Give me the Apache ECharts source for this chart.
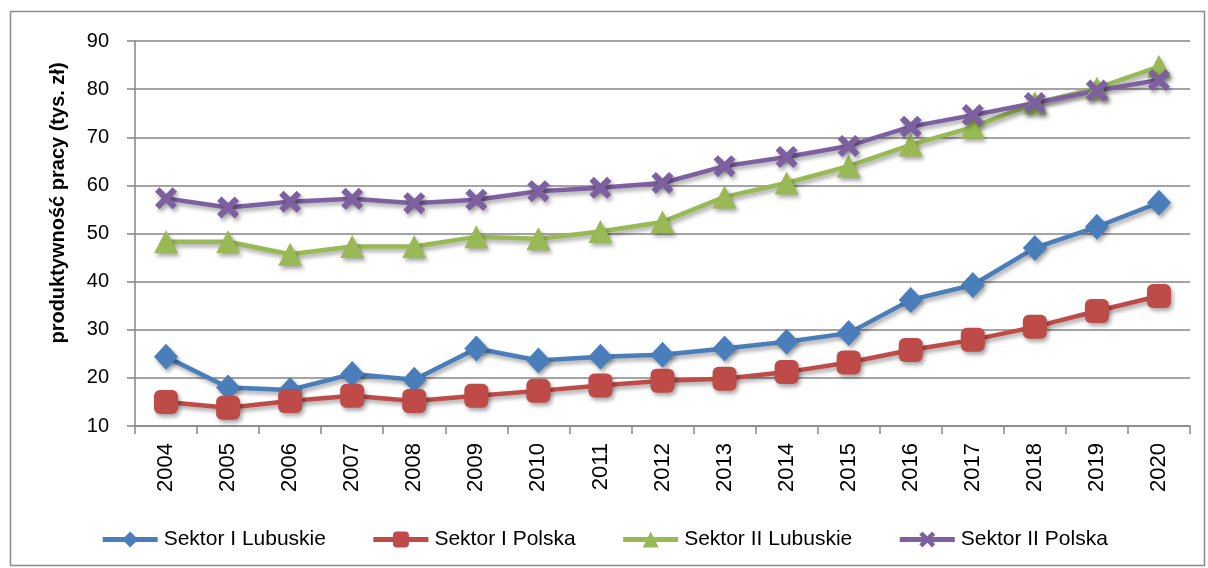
<!DOCTYPE html>
<html>
<head>
<meta charset="utf-8">
<script src="https://cdn.jsdelivr.net/npm/echarts@6/dist/echarts.min.js"></script>
<style>html,body{margin:0;padding:0;background:#fff;}#c{width:1208px;height:568px;}</style>
</head>
<body>
<div id="c"></div>
<script>
var years = ['2004','2005','2006','2007','2008','2009','2010','2011','2012','2013','2014','2015','2016','2017','2018','2019','2020'];
var sektorILubuskie = [24.4,18.0,17.5,20.8,19.6,26.1,23.6,24.4,24.8,26.1,27.5,29.3,36.2,39.3,47.0,51.4,56.4];
var sektorIPolska = [15.0,13.8,15.2,16.3,15.2,16.3,17.3,18.4,19.4,19.8,21.2,23.2,25.8,27.9,30.6,33.9,37.0];
var sektorIILubuskie = [48.3,48.3,45.7,47.3,47.3,49.3,48.9,50.4,52.4,57.6,60.5,64.0,68.4,72.1,77.1,80.2,84.7];
var sektorIIPolska = [57.3,55.4,56.6,57.2,56.3,57.0,58.8,59.5,60.5,64.0,65.9,68.2,72.2,74.6,77.1,79.7,81.9];
var seriesNames = ['Sektor I Lubuskie','Sektor I Polska','Sektor II Lubuskie','Sektor II Polska'];
var yTitle = 'produktywność pracy (tys. zł)';

var chart = echarts.init(document.getElementById('c'), null, {renderer:'canvas'});
var shadow = {shadowColor:'rgba(0,0,0,0.35)', shadowBlur:4, shadowOffsetX:2, shadowOffsetY:3};
function mk(name, data, color, symbol, size){
  return {
    name: name, type:'line', data: data, symbol: symbol, symbolSize: size,
    showAllSymbol:true,
    lineStyle: Object.assign({color: color, width: 4.5}, shadow),
    itemStyle: Object.assign({color: color}, shadow),
    emphasis:{disabled:true}, z: 2
  };
}
var xPath = 'path://M2,0 L5,3 L8,0 L10,2 L7,5 L10,8 L8,10 L5,7 L2,10 L0,8 L3,5 L0,2 Z';
chart.setOption({
  animation:false,
  backgroundColor:'#fff',
  grid:{left:135, right:18, top:41, bottom:142},
  graphic:[
    {type:'rect', shape:{x:10.5,y:11.5,width:1194,height:554}, style:{fill:'none', stroke:'#8c8c8c', lineWidth:1.5}, z:-1},
    {type:'text', x:58, y:203, rotation:Math.PI/2, style:{text:yTitle, fontFamily:'Liberation Sans, Arial, sans-serif', fontWeight:'bold', fontSize:20, fill:'#000', align:'center', verticalAlign:'middle'}}
  ],
  legend:{
    bottom:13, left:'center', itemGap:45, itemWidth:55, itemHeight:20,
    lineStyle:{width:5},
    textStyle:{fontFamily:'Liberation Sans, Arial, sans-serif', fontSize:21, color:'#000', padding:[0,0,0,1]},
    data: seriesNames
  },
  xAxis:{
    type:'category', data: years, boundaryGap:true,
    axisLine:{lineStyle:{color:'#868686', width:1.5}},
    axisTick:{show:true, length:8, lineStyle:{color:'#868686', width:1.5}},
    axisLabel:{rotate:90, fontSize:22, color:'#000', margin:17, fontFamily:'Liberation Sans, Arial, sans-serif'}
  },
  yAxis:{
    type:'value', min:10, max:90, interval:10,
    axisLine:{show:true, lineStyle:{color:'#868686', width:1.5}},
    axisTick:{show:true, length:8, lineStyle:{color:'#868686', width:1.5}},
    splitLine:{lineStyle:{color:'#868686', width:1.5}},
    axisLabel:{fontSize:20, color:'#000', margin:26, fontFamily:'Liberation Sans, Arial, sans-serif'}
  },
  series:[
    mk(seriesNames[0], sektorILubuskie, '#4a7ebb', 'diamond', [24,26]),
    mk(seriesNames[1], sektorIPolska, '#be4b48', 'roundRect', [24,24]),
    mk(seriesNames[2], sektorIILubuskie, '#98b954', 'triangle', [24,23]),
    mk(seriesNames[3], sektorIIPolska, '#7d60a0', xPath, [22,22])
  ]
});
</script>
</body>
</html>
